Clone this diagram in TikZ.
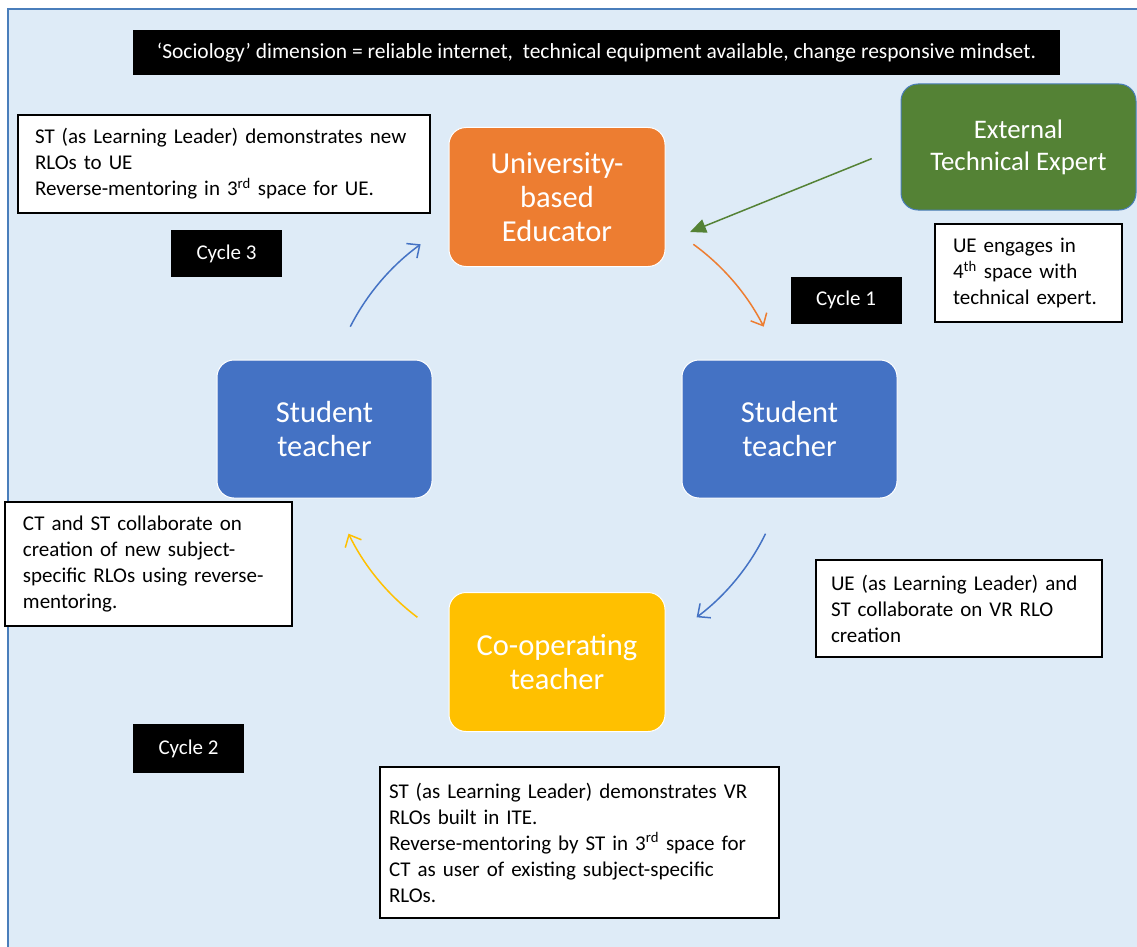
\documentclass[tikz,border=0pt]{standalone}
\usepackage{fontspec}
\setmainfont{Carlito}
\usepackage{tikz}
\usetikzlibrary{positioning}
\usetikzlibrary{arrows.meta}
\definecolor{bgblue}{HTML}{DEEBF7}
\definecolor{frameblue}{HTML}{4A7EBB}
\definecolor{uorange}{HTML}{ED7D31}
\definecolor{egreen}{HTML}{548235}
\definecolor{sblue}{HTML}{4472C4}
\definecolor{cyellow}{HTML}{FFC000}

\begin{document}
\begin{tikzpicture}[x=1pt,y=-1pt,
 role/.style={rounded corners=17pt,draw=white,line width=1pt,text=white,align=center,
  minimum width=216pt,minimum height=139pt,font=\fontsize{30.5}{34}\selectfont},
 note/.style={draw=black,fill=white,line width=1.2pt,align=left,inner xsep=17pt,
  text width=#1,font=\fontsize{21}{26}\selectfont},
 cyclab/.style={fill=black,text=white,minimum width=111pt,minimum height=47pt,
  font=\fontsize{21}{26}\selectfont},
 cyc/.style={line width=1.5pt,-{Straight Barb[length=10pt,width=18pt]}}]
 \useasboundingbox (0,0) rectangle (1137,947);
 \clip (0,0) rectangle (1137,947);
 \draw[fill=bgblue,draw=frameblue,line width=1.5pt] (8,9) rectangle (1160,970);
 \node[fill=black,text=white,minimum width=927pt,minimum height=45pt,
  font=\fontsize{21.5}{24}\selectfont] (socio) at (596.5,52.5)
  {‘Sociology’ dimension = reliable internet,\ \ technical equipment available, change responsive mindset.};
 \node[role,fill=uorange] (ube) at (557,197) {University-\\based\\Educator};
 \node[role,fill=egreen,draw=frameblue,minimum width=235pt,minimum height=126pt,
  font=\fontsize{26.8}{32}\selectfont] (ext) at (1018.5,147) {External\\Technical Expert};
 \node[role,fill=sblue,minimum width=215pt,minimum height=138pt] (stR) at (789.5,429) {Student\\teacher};
 \node[role,fill=sblue,minimum width=215pt,minimum height=138pt] (stL) at (324.5,429) {Student\\teacher};
 \node[role,fill=cyellow] (cot) at (557,662) {Co-operating\\teacher};
 \coordinate (hub) at (557,432);
 \node[note=378pt,minimum height=98pt] (demoUE) at (224,164)
  {ST (as Learning Leader) demonstrates new\\RLOs to UE\\Reverse-mentoring in 3\textsuperscript{rd} space for UE.};
 \node[note=151pt,inner xsep=18pt,minimum height=98pt] (fourth) at (1028.5,273)
  {UE engages in\\4\textsuperscript{th} space with\\technical expert.};
 \node[note=256pt,inner xsep=15pt,minimum height=97pt] (collabUE) at (959,608.5)
  {UE (as Learning Leader) and\\ST collaborate on VR RLO\\creation};
 \node[note=251pt,inner xsep=18pt,minimum height=124pt] (collabCT) at (148.5,564)
  {CT and ST collaborate on\\creation of new subject-\\specific RLOs using reverse-\\mentoring.};
 \node[note=381pt,inner xsep=9pt,minimum height=151pt] (demoCT) at (579.5,842.5)
  {ST (as Learning Leader) demonstrates VR\\RLOs built in ITE.\\Reverse-mentoring by ST in 3\textsuperscript{rd} space for\\CT as user of existing subject-specific\\RLOs.};
 \node[cyclab] (c1) at (846,300) {Cycle 1};
 \node[cyclab,minimum height=49pt] (c2) at (188.5,748.5) {Cycle 2};
 \node[cyclab] (c3) at (226.5,253.5) {Cycle 3};
 \foreach \a/\c in {-153/sblue,-54/uorange,26/sblue,127/cyellow}
  \draw[cyc,\c] ([shift={(\a:232)}]hub) arc[start angle=\a,end angle=\a+27,radius=232];
 \coordinate (gtip) at (690,232);
 \draw[egreen,line width=1.5pt,-{Triangle[length=16pt,width=14pt]},shorten <=31pt] (ext.west) -- (gtip);
\end{tikzpicture}
\end{document}
